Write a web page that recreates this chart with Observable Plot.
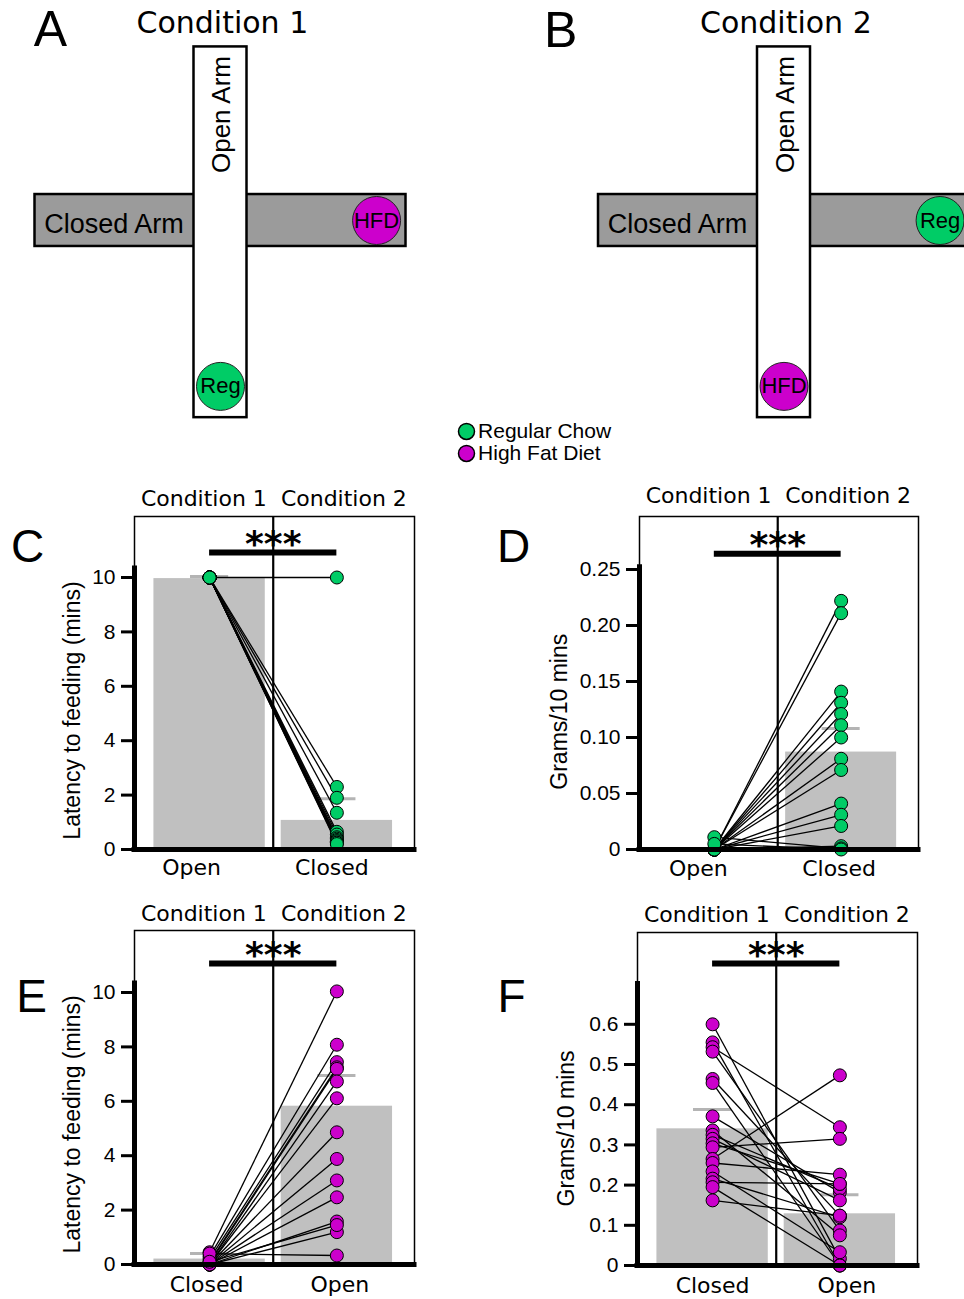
<!DOCTYPE html>
<html><head><meta charset="utf-8">
<script src="https://cdn.jsdelivr.net/npm/d3@7"></script>
<script src="https://cdn.jsdelivr.net/npm/@observablehq/plot@0.6"></script>
<style>
body{margin:0;background:#fff;}
#fig{position:relative;width:964px;height:1299px;overflow:hidden;background:#fff;}
#fig svg{position:absolute;max-width:none;}
</style></head><body><div id="fig"></div>
<script>
// ---------- data ----------
const conditions = ["Condition 1", "Condition 2"];
const armLabels = ["Closed Arm", "Open Arm"];
const foodAtClosedEnd = ["HFD", "Reg"];
const foodAtOpenEnd = ["Reg", "HFD"];
const legendFoods = ["Reg", "HFD"];
const legendLabels = ["Regular Chow", "High Fat Diet"];

// C: latency to feeding, regular chow
const cCats = ["Open", "Closed"];
const cFirst  = [10, 10, 10, 10, 10, 10, 10, 10, 10, 10, 10, 10, 10, 10];
const cSecond = [10, 2.3, 1.9, 1.35, 0.65, 0.55, 0.45, 0.4, 0.35, 0.3, 0.3, 0.25, 0.25, 0.2];
const cMeans = [9.96, 1.07];
const cCaps  = [10.04, 1.87];
const cTicks = [0, 2, 4, 6, 8, 10];

// D: grams / 10 mins, regular chow
const dCats = ["Open", "Closed"];
const dFirst  = [0, 0, 0, 0, 0, 0, 0, 0, 0, 0, 0, 0, 0, 0.011, 0.005];
const dSecond = [0.222, 0.211, 0.141, 0.131, 0.121, 0.111, 0.100, 0.081, 0.071, 0.041, 0.031, 0.021, 0.003, 0.001, 0];
const dMeans = [0, 0.087];
const dCaps  = [0.001, 0.108];
const dTicks = [0, 0.05, 0.10, 0.15, 0.20, 0.25];

// E: latency to feeding, high fat diet
const eCats = ["Closed", "Open"];
const eFirst  = [0.45, 0.3, 0.2, 0.1, 0.05, 0, 0, 0, 0, 0, 0, 0, 0, 0.4, 0.1];
const eSecond = [10.04, 8.08, 7.44, 7.25, 7.19, 6.73, 6.11, 4.86, 3.88, 3.09, 2.47, 1.58, 1.19, 0.33, 1.45];
const eMeans = [0.2, 5.82];
const eCaps  = [0.4, 6.95];
const eTicks = [0, 2, 4, 6, 8, 10];

// F: grams / 10 mins, high fat diet
const fCats = ["Closed", "Open"];
const fFirst  = [0.60, 0.555, 0.543, 0.532, 0.464, 0.454, 0.371, 0.336, 0.325, 0.315, 0.304, 0.294, 0.265, 0.255, 0.234, 0.216, 0.207, 0.195, 0.162];
const fSecond = [0.017, 0.0, 0.344, 0.087, 0.124, 0.0, 0.182, 0.075, 0.191, 0.162, 0.203, 0.315, 0.473, 0.226, 0.033, 0.12, 0.203, 0.0, 0.124];
const fMeans = [0.340, 0.1286];
const fCaps  = [0.388, 0.176];
const fTicks = [0, 0.1, 0.2, 0.3, 0.4, 0.5, 0.6];

// ---------- style ----------
const GREEN = "#00cc66", MAGENTA = "#cc00cc";
const FOOD_COLOR = {Reg: GREEN, HFD: MAGENTA};
const SANS = "Liberation Sans, Arial, sans-serif";
const DEJAVU = "DejaVu Sans, sans-serif";
const BAR = "#c0c0c0", CAP = "#b4b4b4";
const fig = document.getElementById("fig");

function place(svg, left, topPx) {
  svg.style.left = left + "px";
  svg.style.top = topPx + "px";
  svg.style.background = "transparent";
  fig.appendChild(svg);
}

// ---------- top: maze diagrams ----------
const U = 26.5;                 // px per maze unit
const GAP = 563.5 / U;          // offset between the two mazes
const mazes = conditions.map((c, k) => ({c, k, off: k * GAP}));
const foods = mazes.flatMap(m => [
  {food: foodAtClosedEnd[m.k], x: m.off + 5.89, y: 0},
  {food: foodAtOpenEnd[m.k], x: m.off, y: 6.26}
]);
const legend = legendFoods.map((f, i) => ({food: f, label: legendLabels[i], i}));

const mazePlot = Plot.plot({
  width: 964, height: 470, margin: 0,
  x: {domain: [-220 / U, (964 - 220) / U], range: [0, 964], axis: null},
  y: {domain: [-220 / U, (470 - 220) / U], range: [0, 470], axis: null},
  color: {type: "identity"},
  style: {fontFamily: SANS},
  marks: [
    Plot.rect(mazes, {x1: d => d.off - 7, x2: d => d.off + 7, y1: -0.98, y2: 0.98, fill: "#9b9b9b", stroke: "black", strokeWidth: 2.5}),
    Plot.rect(mazes, {x1: d => d.off - 1, x2: d => d.off + 1, y1: -6.55, y2: 7.44, fill: "white", stroke: "black", strokeWidth: 2.5}),
    Plot.text(mazes, {x: d => d.off - 6.65, y: 0.15, text: () => armLabels[0], textAnchor: "start", fontSize: 27, fontFamily: SANS}),
    Plot.text(mazes, {x: d => d.off + 0.05, y: -4.0, text: () => armLabels[1], rotate: -90, fontSize: 26, fontFamily: SANS}),
    Plot.dot(foods, {x: "x", y: "y", r: 24, fill: d => FOOD_COLOR[d.food], stroke: "#222", strokeWidth: 1}),
    Plot.text(foods, {x: "x", y: "y", text: "food", fontSize: 22, fontFamily: SANS}),
    Plot.text(mazes, {x: d => d.off + 0.07, y: -7.45, text: "c", fontSize: 30, fontFamily: DEJAVU}),
    Plot.text(["A"], {x: -6.415, y: -7.2, fontSize: 50, fontFamily: SANS}),
    Plot.text(["B"], {x: GAP - 8.43, y: -7.15, fontSize: 50, fontFamily: SANS}),
    Plot.dot(legend, {x: 9.283, y: d => 7.962 + d.i * 0.83, r: 8, fill: d => FOOD_COLOR[d.food], stroke: "black", strokeWidth: 1.5}),
    Plot.text(legend, {x: 9.72, y: d => 7.962 + d.i * 0.83, text: "label", textAnchor: "start", fontSize: 21, fontFamily: SANS})
  ]
});
place(mazePlot, 0, 0);

// ---------- panels C–F ----------
const xDom = [-0.59, 1.61];
const gfmt = d => d === 0 ? "0" : d.toFixed(2);
const ffmt = d => d === 0 ? "0" : d.toFixed(1);

function panel(cfg) {
  const pairs = cfg.a.map((v, i) => ({v1: v, v2: cfg.b[i]}));
  const pts = [...cfg.a.map(v => ({k: 0, v})), ...cfg.b.map(v => ({k: 1, v}))];
  const bars = cfg.means.map((m, k) => ({k, m, cap: cfg.caps[k]}));
  const mids = [(xDom[0] + 0.5) / 2, (0.5 + xDom[1]) / 2];
  const mid = {textAnchor: "middle", lineAnchor: "middle"};
  const svg = Plot.plot({
    width: cfg.width, height: cfg.height,
    marginLeft: cfg.mL, marginRight: cfg.mR, marginTop: cfg.mT, marginBottom: cfg.mB,
    x: {domain: xDom, axis: null},
    y: {domain: [0, cfg.yMax]},
    style: {fontFamily: SANS},
    marks: [
      Plot.rectY(bars, {x1: d => d.k - 0.4375, x2: d => d.k + 0.4375, y1: 0, y2: "m", fill: BAR}),
      Plot.ruleY(bars, {x1: d => d.k - 0.15, x2: d => d.k + 0.15, y: "cap", stroke: CAP, strokeWidth: 3}),
      Plot.frame({stroke: "black", strokeWidth: 1.5}),
      Plot.ruleX([0.5], {stroke: "black", strokeWidth: 2.2}),
      Plot.ruleY([cfg.sigY], {x1: 0, x2: 1, stroke: "black", strokeWidth: 6}),
      Plot.text(["***"], {x: 0.5, y: cfg.sigY, dy: -8, fontSize: 36, fontWeight: "bold", fontFamily: DEJAVU, ...mid}),
      Plot.link(pairs, {x1: 0, x2: 1, y1: "v1", y2: "v2", stroke: "black", strokeWidth: 1.3}),
      Plot.dot(pts, {x: "k", y: "v", r: 6.5, fill: cfg.color, stroke: "black", strokeWidth: 1}),
      Plot.ruleX([xDom[0]], {y1: 0, y2: cfg.axisTop, stroke: "black", strokeWidth: 5, strokeLinecap: "square"}),
      Plot.ruleY([0], {stroke: "black", strokeWidth: 5, strokeLinecap: "square"}),
      Plot.axisY({ticks: cfg.ticks, tickFormat: cfg.fmt, tickSize: 13, strokeWidth: 3, tickPadding: 6, fontSize: 21, fontFamily: SANS, label: null}),
      Plot.text([cfg.yLabel], {frameAnchor: "left", y: cfg.yLabelY, dx: cfg.labelDx, rotate: -90, fontSize: 23, fontFamily: SANS, ...mid}),
      Plot.text(conditions, {x: (d, i) => mids[i], frameAnchor: "top", dy: cfg.condDy, fontSize: 22, fontFamily: DEJAVU, ...mid}),
      ...cfg.cats.map((c, i) => Plot.text([c], {x: i, frameAnchor: "bottom", dy: cfg.catDy, dx: cfg.catDx[i], fontSize: 22, fontFamily: DEJAVU, ...mid})),
      Plot.text([cfg.letter], {frameAnchor: "top-left", dx: cfg.letterDx, dy: cfg.letterDy, fontSize: 46, fontFamily: SANS, ...mid})
    ]
  });
  place(svg, cfg.left, cfg.top);
}

panel({left: 0, top: 470, width: 440, height: 420, mL: 134, mR: 26, mT: 46, mB: 41,
  yMax: 333 / 27.2, axisTop: 10.33, ticks: cTicks, fmt: d => String(d),
  a: cFirst, b: cSecond, means: cMeans, caps: cCaps, color: GREEN, cats: cCats, catDx: [-18, -5], catDy: 18,
  sigY: 10.92, yLabel: "Latency to feeding (mins)", yLabelY: 5.11, labelDx: -62, condDy: -18,
  letter: "C", letterDx: -107, letterDy: 31});

panel({left: 490, top: 470, width: 450, height: 420, mL: 149, mR: 22, mT: 46, mB: 41,
  yMax: 333 / 1120, axisTop: 0.252, ticks: dTicks, fmt: gfmt,
  a: dFirst, b: dSecond, means: dMeans, caps: dCaps, color: GREEN, cats: dCats, catDx: [-16, -2], catDy: 19,
  sigY: 0.264, yLabel: "Grams/10 mins", yLabelY: 0.123, labelDx: -80, condDy: -21,
  letter: "D", letterDx: -126, letterDy: 31});

panel({left: 0, top: 885, width: 440, height: 414, mL: 134, mR: 26, mT: 45, mB: 35,
  yMax: 334 / 27.2, axisTop: 10.33, ticks: eTicks, fmt: d => String(d),
  a: eFirst, b: eSecond, means: eMeans, caps: eCaps, color: MAGENTA, cats: eCats, catDx: [-3, 3], catDy: 20,
  sigY: 11.07, yLabel: "Latency to feeding (mins)", yLabelY: 5.15, labelDx: -62, condDy: -17,
  letter: "E", letterDx: -103, letterDy: 67});

panel({left: 490, top: 885, width: 450, height: 414, mL: 147, mR: 23, mT: 47, mB: 34,
  yMax: 333 / 402, axisTop: 0.70, ticks: fTicks, fmt: ffmt,
  a: fFirst, b: fSecond, means: fMeans, caps: fCaps, color: MAGENTA, cats: fCats, catDx: [0, 7], catDy: 20,
  sigY: 0.751, yLabel: "Grams/10 mins", yLabelY: 0.341, labelDx: -71, condDy: -18,
  letter: "F", letterDx: -126, letterDy: 65});
</script></body></html>
